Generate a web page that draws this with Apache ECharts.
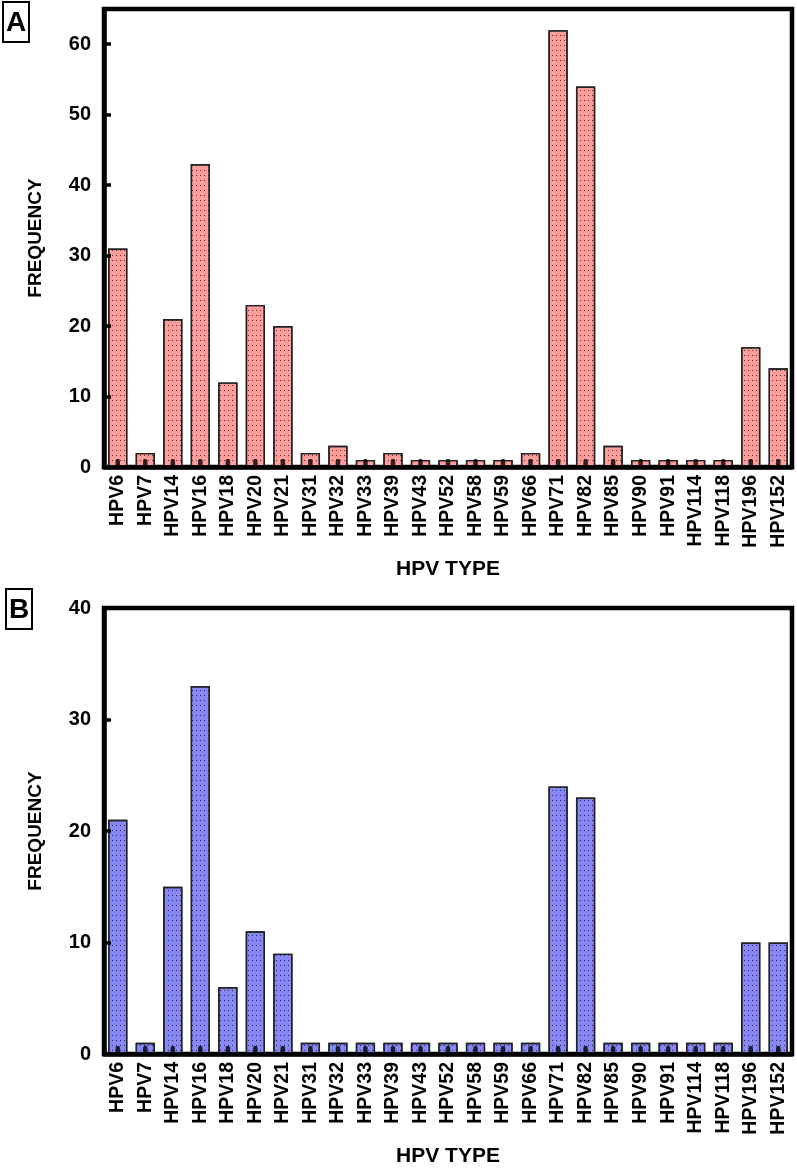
<!DOCTYPE html>
<html>
<head>
<meta charset="utf-8">
<script src="https://cdn.jsdelivr.net/npm/echarts@6/dist/echarts.min.js"></script>
<style>
html,body{margin:0;padding:0;background:#fff;}
#c{width:797px;height:1168px;}
</style>
</head>
<body>
<div id="c"></div>
<script>
const categories = ['HPV6','HPV7','HPV14','HPV16','HPV18','HPV20','HPV21','HPV31','HPV32','HPV33','HPV39','HPV43','HPV52','HPV58','HPV59','HPV66','HPV71','HPV82','HPV85','HPV90','HPV91','HPV114','HPV118','HPV196','HPV152'];
const valuesA = [31,2,21,43,12,23,20,2,3,1,2,1,1,1,1,2,62,54,3,1,1,1,1,17,14];
const valuesB = [21,1,15,33,6,11,9,1,1,1,1,1,1,1,1,1,24,23,1,1,1,1,1,10,10];
const yTicksA = {min:0, max:65, interval:10};
const yTicksB = {min:0, max:40, interval:10};
const xTitle = 'HPV TYPE';
const yTitle = 'FREQUENCY';

const FONT = '"Liberation Sans", Arial, sans-serif';
const chart = echarts.init(document.getElementById('c'), null, {renderer:'canvas'});

function xAxisCfg(idx){
  return {
    type:'category', gridIndex:idx, data:categories, z:10,
    name:xTitle, nameLocation:'middle', nameGap:92,
    nameTextStyle:{fontFamily:FONT, fontWeight:'bold', fontSize:21, color:'#000'},
    axisLine:{lineStyle:{color:'#000', width:4.5}},
    axisTick:{show:false},
    axisLabel:{rotate:90, margin:8, interval:0, fontFamily:FONT, fontWeight:'bold', fontSize:19.5, color:'#000'},
    splitLine:{show:false}
  };
}
function yAxisCfg(idx, t){
  return {
    type:'value', gridIndex:idx, min:t.min, max:t.max, interval:t.interval, z:10,
    name:yTitle, nameLocation:'middle', nameGap:59, nameRotate:90,
    nameTextStyle:{fontFamily:FONT, fontWeight:'bold', fontSize:19, color:'#000'},
    axisLine:{show:true, lineStyle:{color:'#000', width:4.5}},
    axisTick:{show:true, inside:true, length:7, lineStyle:{color:'#000', width:3.5}},
    axisLabel:{margin:13, showMaxLabel: t.max % t.interval === 0, fontFamily:FONT, fontWeight:'bold', fontSize:20, color:'#000'},
    splitLine:{show:false}
  };
}
const decal = {symbol:'rect', symbolSize:1, dashArrayX:[1,3], dashArrayY:[1,4], color:'rgba(0,0,0,0.7)', rotation:0};

function boxLabel(txt, x, y){
  return {
    type:'group', left:x, top:y,
    children:[
      {type:'rect', shape:{x:0,y:0,width:26,height:40}, style:{fill:'#fff', stroke:'#000', lineWidth:2}},
      {type:'text', style:{x:13, y:21, text:txt, align:'center', verticalAlign:'middle', font:'bold 28px ' + FONT, fill:'#000'}}
    ]
  };
}
function tickSeries(idx){
  return {
    type:'scatter', xAxisIndex:idx, yAxisIndex:idx, silent:true, z:6,
    symbol:'roundRect', symbolSize:[4.5,10], symbolOffset:[0,-3],
    itemStyle:{color:'#000'},
    data:categories.map(c => [c, 0])
  };
}

chart.setOption({
  animation:false,
  backgroundColor:'#fff',
  grid:[
    {left:104, top:9, right:5, height:458, show:true, borderColor:'#000', borderWidth:4.5, backgroundColor:'transparent'},
    {left:104, top:608, right:5, height:459, show:true, borderColor:'#000', borderWidth:4.5, backgroundColor:'transparent'}
  ],
  xAxis:[xAxisCfg(0), xAxisCfg(1)],
  yAxis:[yAxisCfg(0, yTicksA), yAxisCfg(1, yTicksB)],
  series:[
    {type:'bar', xAxisIndex:0, yAxisIndex:0, data:valuesA, barWidth:'70%', z:2,
     itemStyle:{color:'#ff9c9c', borderColor:'#222', borderWidth:1.4, decal:decal}},
    {type:'bar', xAxisIndex:1, yAxisIndex:1, data:valuesB, barWidth:'70%', z:2,
     itemStyle:{color:'#8787f5', borderColor:'#222', borderWidth:1.4, decal:decal}},
    tickSeries(0),
    tickSeries(1)
  ],
  graphic:[boxLabel('A', 2, 1), boxLabel('B', 5, 588)]
});
</script>
</body>
</html>
